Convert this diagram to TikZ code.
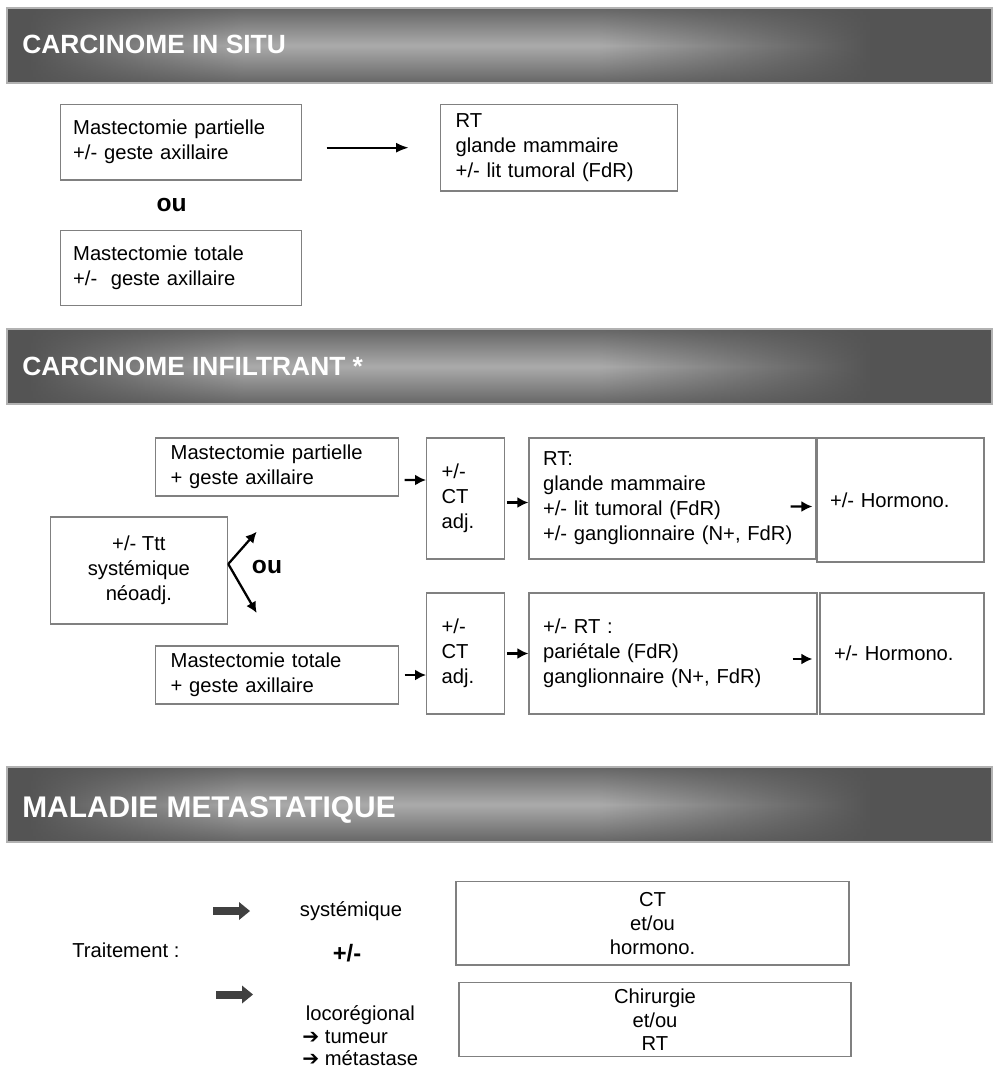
\documentclass[tikz,border=0pt]{standalone}
\usepackage{fontspec}
\setmainfont{Liberation Sans}
\newfontfamily\arrowfont{DejaVu Sans}
\usetikzlibrary{arrows.meta, fadings, calc}
\definecolor{hdark}{HTML}{545454}
\definecolor{hlight}{HTML}{ABABAB}
\pgfdeclarehorizontalshading{hdrshade}{100bp}{color(0bp)=(hdark); color(26bp)=(hdark); color(37bp)=(hlight); color(55bp)=(hlight); color(69bp)=(hdark); color(100bp)=(hdark)}
\tikzfading[name=hdrband, top color=transparent!20, bottom color=transparent!20, middle color=transparent!100]
\newcommand{\txt}{\fontsize{11.5}{14.2}\selectfont}
\tikzstyle{box} = [rectangle, draw=black!50, line width=0.7pt, align=left, font=\txt]
\tikzstyle{cbox} = [rectangle, draw=black!50, line width=0.7pt, align=center, font=\txt]
\tikzstyle{hdr} = [anchor=base west, inner sep=0pt, text=white, font=\bfseries\fontsize{15}{18}\selectfont]
\tikzstyle{plain} = [inner sep=0pt, font=\txt]
\tikzstyle{orword} = [inner sep=0pt, font=\bfseries\fontsize{14}{16}\selectfont]
\tikzstyle{arrow} = [line width=1.3pt, -{Latex[length=0.22cm,width=0.22cm]}]
\tikzstyle{thinarrow} = [line width=1pt, -{Latex[length=0.25cm,width=0.2cm]}]
\tikzstyle{blockarrow} = [line width=0.16cm, draw=black!75, -{Triangle[length=0.22cm,width=0.36cm,line width=0pt]}]

\begin{document}
\begin{tikzpicture}[x=0.02cm, y=-0.02cm]
		\useasboundingbox (0,0) rectangle (992,1072);
		
		% header bars
		\foreach \top in {8, 329, 767} {
			\shade [shading=hdrshade] (7,\top) rectangle (992,\top+75);
			\fill [hdark, path fading=hdrband] (7,\top) rectangle (992,\top+75);
			\draw [black!30, line width=0.6pt] (7,\top) rectangle (992,\top+75);
		}
		\node (hdrA) [hdr] at (22,53) {CARCINOME IN SITU};
		\node (hdrB) [hdr] at (22,375) {CARCINOME INFILTRANT *};
		\node (hdrC) [hdr, font=\bfseries\fontsize{17}{20}\selectfont] at (22,817) {MALADIE METASTATIQUE};
		
		% in situ
		\node (mpartA) [box, minimum height=1.51cm, text width=4.31cm, inner xsep=0.25cm] at (180.9,142.2) {Mastectomie partielle\\+/- geste axillaire};
		\node (ouA) [orword] at (171.7,205) {ou};
		\node (mtotA) [box, minimum height=1.51cm, text width=4.31cm, inner xsep=0.25cm] at (180.9,267.9) {Mastectomie totale\\+/-\ \ geste axillaire};
		\node (rtA) [box, minimum height=1.73cm, text width=4.14cm, inner xsep=0.3cm] at (559.2,147.7) {RT\\glande mammaire\\+/- lit tumoral (FdR)};
		\draw [thinarrow] ($(mpartA.east |- rtA.west)+(0.5cm,0)$) -- ([xshift=-0.63cm]rtA.west);
		
		% infiltrant
		\node (ttt) [cbox, minimum width=3.55cm, minimum height=2.14cm] at (138.9,570.5) {+/- Ttt\\systémique\\néoadj.};
		\node (mpartB) [box, minimum height=1.16cm, text width=4.25cm, inner xsep=0.3cm] at (276.9,467) {Mastectomie partielle\\+ geste axillaire};
		\node (mtotB) [box, minimum height=1.16cm, text width=4.25cm, inner xsep=0.3cm] at (276.9,675) {Mastectomie totale\\+ geste axillaire};
		\node (ctB) [box, minimum height=2.42cm, text width=0.95cm, inner xsep=0.3cm] at (465.4,498.5) {+/-\\CT\\adj.};
		\node (ctC) [box, minimum height=2.42cm, text width=0.95cm, inner xsep=0.3cm] at (465.4,653.5) {+/-\\CT\\adj.};
		\node (rtB) [box, minimum height=2.42cm, text width=5.18cm, inner xsep=0.28cm] at (672.5,498.5) {RT:\\glande mammaire\\+/- lit tumoral (FdR)\\+/- ganglionnaire (N+, FdR)};
		\node (rtC) [box, minimum height=2.42cm, text width=5.2cm, inner xsep=0.28cm] at (673,653.5) {+/- RT :\\pariétale (FdR)\\ganglionnaire (N+, FdR)};
		\node (hormB) [box, minimum height=2.48cm, text width=2.82cm, inner xsep=0.26cm] at (900.5,500) {+/- Hormono.};
		\node (hormC) [box, minimum height=2.42cm, text width=2.72cm, inner xsep=0.28cm] at (902,653.5) {+/- Hormono.};
		\node (ouB) [orword] at (267,567) {ou};
		\coordinate (up) at (256.7,531.7);
		\coordinate (down) at (256.7,613);
		
		\draw [arrow] ([yshift=0.13cm]ttt.east) -- (up);
		\draw [arrow] ([yshift=0.13cm]ttt.east) -- (down);
		\draw [arrow] ([xshift=0.12cm,yshift=-0.26cm]mpartB.east) -- ([yshift=0.37cm]ctB.west);
		\draw [arrow] ([xshift=0.04cm,yshift=-0.08cm]ctB.east) -- ([yshift=-0.08cm]rtB.west);
		\draw [arrow] ([xshift=-0.52cm,yshift=-0.16cm]rtB.east) -- ([xshift=-0.08cm,yshift=-0.13cm]hormB.west);
		\draw [arrow] ([xshift=0.12cm]mtotB.east) -- (ctC.west |- mtotB.east);
		\draw [arrow] ([xshift=0.04cm]ctC.east) -- (rtC.west);
		\draw [arrow] ([xshift=-0.5cm,yshift=-0.11cm]rtC.east) -- ([xshift=-0.14cm,yshift=-0.11cm]hormC.west);
		
		% metastatique
		\node (trait) [plain, anchor=west] at (72,950) {Traitement :};
		\coordinate (sysA) at (213,911);
		\coordinate (sysB) at (250,911);
		\coordinate (locA) at (216,994.5);
		\coordinate (locB) at (253,994.5);
		\draw [blockarrow] (sysA) -- (sysB);
		\draw [blockarrow] (locA) -- (locB);
		\node (sys) [plain] at (351,911) {systémique};
		\node (plusmoins) [orword, font=\bfseries\fontsize{13.5}{16}\selectfont] at (347,953) {+/-};
		\node (loco) [plain, anchor=west, align=left, font=\fontsize{11.5}{12.8}\selectfont] at (302,1036) {\hspace{2pt}locorégional\\{\arrowfont\bfseries ➔} tumeur\\{\arrowfont\bfseries ➔} métastase};
		\node (ctD) [cbox, minimum width=7.86cm, minimum height=1.67cm, inner ysep=1pt, font=\fontsize{11.5}{13.6}\selectfont] at (652.5,923.3) {CT\\et/ou\\hormono.};
		\node (chir) [cbox, minimum width=7.84cm, minimum height=1.48cm, inner ysep=1pt, font=\fontsize{11.5}{13.6}\selectfont] at (655,1019.7) {Chirurgie\\et/ou\\RT};
\end{tikzpicture}
\end{document}
